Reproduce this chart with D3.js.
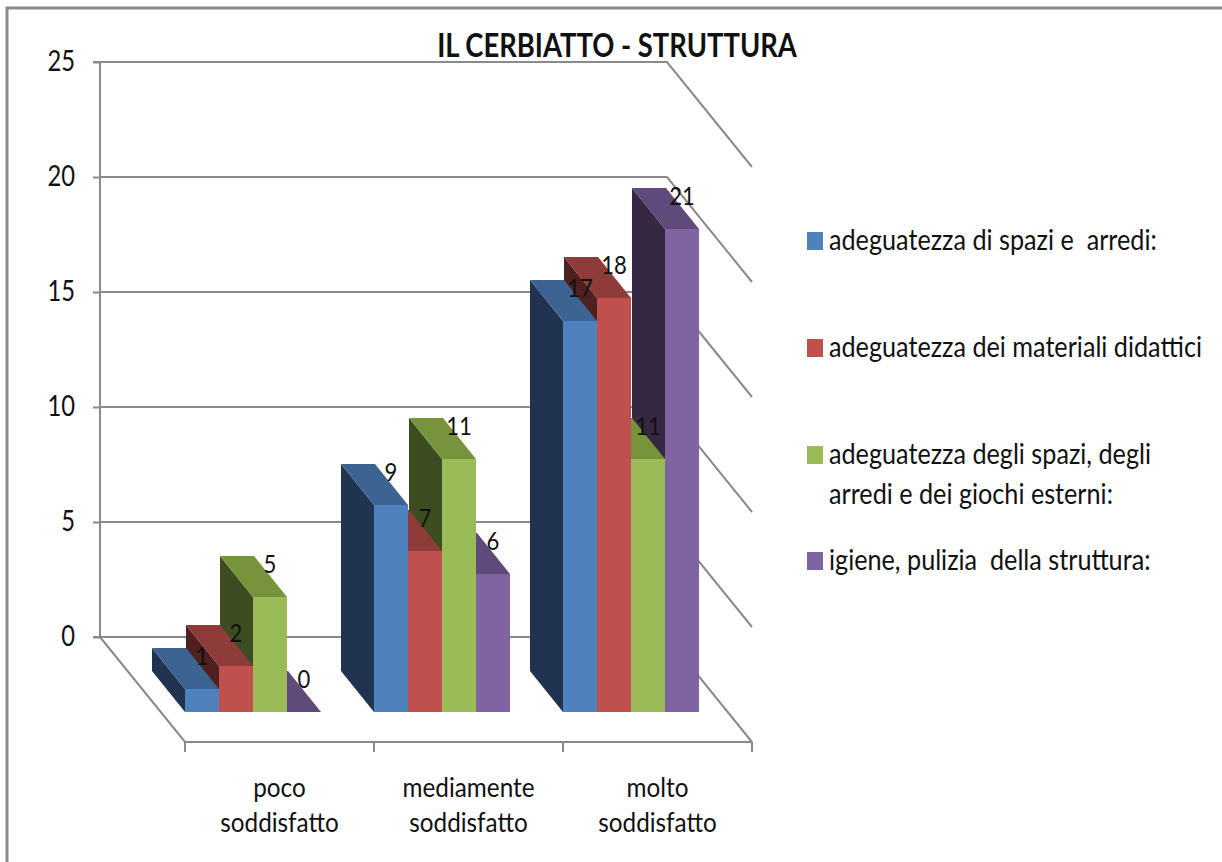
<!DOCTYPE html>
<html>
<head>
<meta charset="utf-8">
<script src="https://cdn.jsdelivr.net/npm/d3@7"></script>
<style>
  html, body { margin: 0; padding: 0; background: #fff; }
  svg { display: block; }
  text { font-family: Lato, "Open Sans", sans-serif; fill: #111; white-space: pre; }
</style>
</head>
<body>
<svg id="chart" width="1222" height="862"></svg>
<script>
// ---- data ----
const title = "IL CERBIATTO - STRUTTURA";
const categories = ["poco soddisfatto", "mediamente soddisfatto", "molto soddisfatto"];
const seriesNames = [
  "adeguatezza di spazi e  arredi:",
  "adeguatezza dei materiali didattici",
  "adeguatezza degli spazi, degli\narredi e dei giochi esterni:",
  "igiene, pulizia  della struttura:"
];
const spaziArredi = [1, 9, 17];
const materialiDidattici = [2, 7, 18];
const spaziEsterni = [5, 11, 11];
const igienePulizia = [0, 6, 21];
const yTicks = [0, 5, 10, 15, 20, 25];

const seriesValues = [spaziArredi, materialiDidattici, spaziEsterni, igienePulizia];
const colors = [
  {front: "#4F81BD", top: "#3C6391", side: "#20344F"},
  {front: "#C0504D", top: "#8E3B39", side: "#4F201F"},
  {front: "#9BBB59", top: "#77933C", side: "#3E4C22"},
  {front: "#8064A2", top: "#604A7B", side: "#362843"}
];

// ---- layout ----
const svg = d3.select("#chart");
const wallL = 100, wallR = 667;
const wallDX = 85, wallDY = 105;
const barDX = -33, barDY = -41;
const gridColor = "#8a8a8a";

const yBack = d3.scaleLinear().domain([0, 25]).range([637, 62]);
const yFront = d3.scaleLinear().domain([0, 25]).range([712, 137]);
const x = d3.scaleBand().domain(categories).range([185, 752]).padding(0);
const xs = d3.scaleBand().domain(d3.range(seriesNames.length)).range([0, 136]).padding(0);

function addText(g, str, tx, ty, size, anchor, sx, weight) {
  return g.append("text")
    .attr("transform", `translate(${tx},${ty}) scale(${sx},1)`)
    .attr("text-anchor", anchor || "start")
    .attr("font-size", size)
    .attr("font-weight", weight || "normal")
    .text(str);
}

// border
svg.append("rect").attr("x", 7).attr("y", 8).attr("width", 1400).attr("height", 1000)
  .attr("fill", "none").attr("stroke", "#8a8a8a").attr("stroke-width", 3);

// gridlines on back + right wall
const grid = svg.append("g").attr("fill", "none").attr("stroke", gridColor).attr("stroke-width", 2);
yTicks.forEach(t => {
  const y = yBack(t);
  grid.append("path").attr("d", `M${wallL},${y}H${wallR}L${wallR + wallDX},${y + wallDY}`);
});
// floor left edge and front edge
grid.append("path").attr("d", `M${wallL},${yBack(0)}L${wallL + wallDX},${yBack(0) + wallDY}H${wallR + wallDX}`);
// category ticks on front floor edge
const catTicks = categories.map(c => x(c)).concat([x.range()[1]]);
catTicks.forEach(cx => {
  grid.append("line").attr("x1", cx).attr("x2", cx)
    .attr("y1", yBack(0) + wallDY).attr("y2", yBack(0) + wallDY + 10);
});

// y axis
const yAxis = d3.axisLeft(yBack).tickValues(yTicks).tickSize(7).tickPadding(8).tickFormat(d3.format("d"));
const ya = svg.append("g").attr("transform", `translate(${wallL},0)`).call(yAxis);
ya.select(".domain").attr("stroke", gridColor).attr("stroke-width", 2).attr("d", `M-7,${yBack(25)}H0V${yBack(0)}H-7`);
ya.selectAll(".tick line").attr("stroke", gridColor).attr("stroke-width", 2);
ya.selectAll(".tick text").remove();
yTicks.forEach(t => addText(ya, String(t), -25, yBack(t) + 9, 29, "end", 0.82));

// bars: draw right-to-left so left bars occlude right bars' side faces
const bars = [];
categories.forEach((c, ci) => {
  seriesValues.forEach((vals, si) => {
    bars.push({ci, si, v: vals[ci], x0: x(c) + xs(si), w: xs.bandwidth()});
  });
});
bars.sort((a, b) => b.x0 - a.x0);
const barG = svg.append("g");
bars.forEach(b => {
  const col = colors[b.si];
  const yb = yFront(0), yt = yFront(b.v);
  const x0 = b.x0, x1 = b.x0 + b.w;
  const g = barG.append("g");
  g.append("path").attr("fill", col.side)
    .attr("d", `M${x0},${yt}L${x0 + barDX},${yt + barDY}L${x0 + barDX},${yb + barDY}L${x0},${yb}Z`);
  g.append("path").attr("fill", col.top)
    .attr("d", `M${x0},${yt}L${x1},${yt}L${x1 + barDX},${yt + barDY}L${x0 + barDX},${yt + barDY}Z`);
  if (b.v > 0) {
    g.append("rect").attr("x", x0).attr("y", yt).attr("width", b.w).attr("height", yb - yt).attr("fill", col.front);
  }
});

// data labels
const labG = svg.append("g");
bars.forEach(b => {
  const lx = b.x0 + b.w + barDX + 16;
  const ly = yFront(b.v) + barDY + 17;
  addText(labG, String(b.v), lx, ly, 26, "middle", 0.85);
});

// category labels
const catG = svg.append("g");
categories.forEach(c => {
  const cx = x(c) + x.bandwidth() / 2;
  const parts = c.split(" ");
  addText(catG, parts[0], cx, 797, 27, "middle", 0.9);
  addText(catG, parts[1], cx, 832, 27, "middle", 0.9);
});

// legend
const legG = svg.append("g");
const legY = [241, 348, 455, 561];
seriesNames.forEach((name, i) => {
  legG.append("rect").attr("x", 807).attr("y", legY[i] - 9).attr("width", 16).attr("height", 18)
    .attr("fill", colors[i].front);
  name.split("\n").forEach((line, li) => {
    addText(legG, line, 829, legY[i] + 9 + li * 40, 28, "start", 0.9);
  });
});

// title
addText(svg, title, 617, 57, 33, "middle", 0.83, "bold");
</script>
</body>
</html>
